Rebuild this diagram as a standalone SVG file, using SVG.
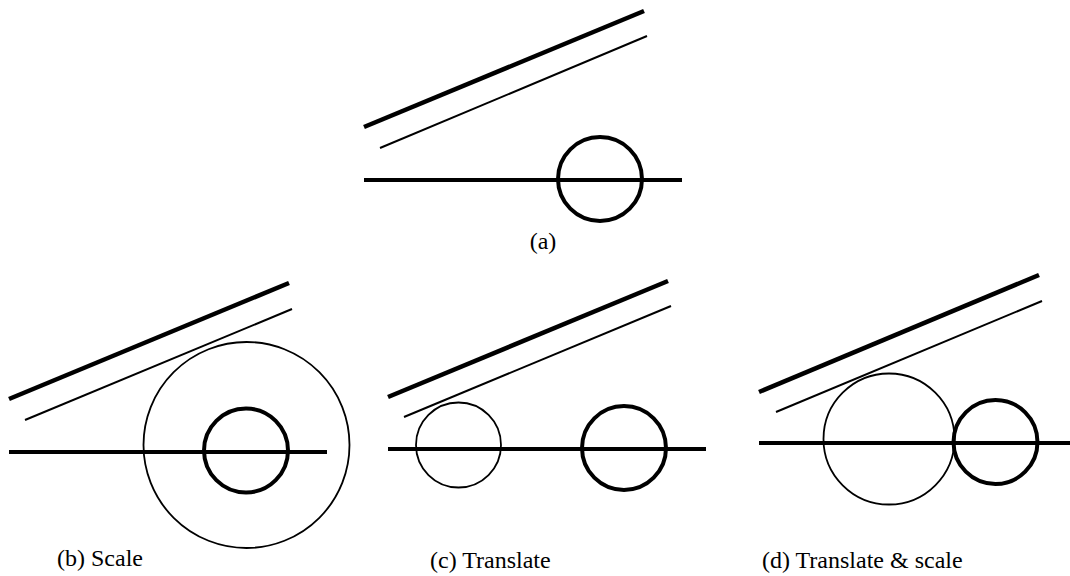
<svg xmlns="http://www.w3.org/2000/svg" width="1070" height="576" viewBox="0 0 1070 576">
<style>
.thick{stroke:#000;stroke-width:4.5;fill:none}
.thin{stroke:#000;stroke-width:2;fill:none}
.hline{stroke:#000;stroke-width:4;fill:none}
.c1{stroke:#000;stroke-width:4;fill:none}
.c2{stroke:#000;stroke-width:1.8;fill:none}
.lbl{font-family:"Liberation Serif","Times New Roman",serif;font-size:24px;fill:#000}
</style>
<rect width="1070" height="576" fill="#fff"/>
<g id="panel-a">
<line class="thick" x1="364" y1="127" x2="644" y2="11"/>
<line class="thin" x1="380" y1="148" x2="647" y2="36"/>
<line class="hline" x1="364" y1="180" x2="682" y2="180"/>
<circle class="c1" cx="600" cy="179" r="42"/>
<text class="lbl" x="543" y="249" text-anchor="middle">(a)</text>
</g>
<g id="panel-b">
<line class="thick" x1="9" y1="399" x2="289" y2="283"/>
<line class="thin" x1="25" y1="420" x2="292" y2="309"/>
<line class="hline" x1="9" y1="452" x2="327" y2="452"/>
<circle class="c2" cx="246.5" cy="445" r="103"/>
<circle class="c1" cx="246" cy="450.5" r="42"/>
<text class="lbl" x="57" y="566">(b) Scale</text>
</g>
<g id="panel-c">
<line class="thick" x1="388" y1="397" x2="668" y2="281"/>
<line class="thin" x1="404" y1="417" x2="671" y2="306"/>
<line class="hline" x1="388" y1="449" x2="706" y2="449"/>
<circle class="c2" cx="458.5" cy="445" r="42.5"/>
<circle class="c1" cx="624" cy="448" r="42"/>
<text class="lbl" x="430" y="568">(c) Translate</text>
</g>
<g id="panel-d">
<line class="thick" x1="759" y1="392" x2="1039" y2="275"/>
<line class="thin" x1="776" y1="412" x2="1042" y2="301"/>
<line class="hline" x1="759" y1="443" x2="1070" y2="443"/>
<circle class="c2" cx="889" cy="439" r="65.5"/>
<circle class="c1" cx="995.5" cy="442" r="42"/>
<text class="lbl" x="762" y="568">(d) Translate &amp; scale</text>
</g>
</svg>
